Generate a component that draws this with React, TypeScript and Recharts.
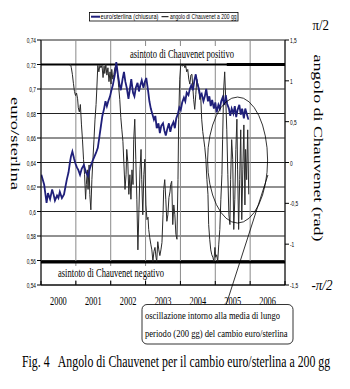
import React from "react";
import {
  ComposedChart,
  Line,
  XAxis,
  YAxis,
  CartesianGrid,
  ReferenceLine,
  ReferenceDot,
} from "recharts";

// year boundaries (labels sit in the middle of each year)
const YEARS = [2000, 2001, 2002, 2003, 2004, 2005, 2006, 2007];
const LEFT_TICKS = [0.54, 0.56, 0.58, 0.6, 0.62, 0.64, 0.66, 0.68, 0.7, 0.72, 0.74];
const RIGHT_TICKS = [-1.5, -1, -0.5, 0, 0.5, 1, 1.5];

// euro/sterlina (chiusura) - [year, value]
const EUR_GBP: [number, number][] = [
  [2000.01, 0.63], [2000.09, 0.622], [2000.16, 0.607], [2000.2, 0.615], [2000.26, 0.61],
  [2000.32, 0.618], [2000.36, 0.614], [2000.4, 0.609], [2000.46, 0.613], [2000.5, 0.611],
  [2000.54, 0.616], [2000.6, 0.611], [2000.66, 0.614], [2000.7, 0.62], [2000.74, 0.626],
  [2000.79, 0.632], [2000.83, 0.64], [2000.86, 0.645], [2000.9, 0.649], [2000.95, 0.643],
  [2000.99, 0.639], [2001.03, 0.636], [2001.07, 0.634], [2001.12, 0.63], [2001.17, 0.635],
  [2001.23, 0.638], [2001.29, 0.632], [2001.35, 0.629], [2001.4, 0.635], [2001.46, 0.64],
  [2001.52, 0.644], [2001.58, 0.648], [2001.63, 0.652], [2001.68, 0.662], [2001.72, 0.67],
  [2001.76, 0.678], [2001.81, 0.684], [2001.85, 0.69], [2001.89, 0.686], [2001.93, 0.69],
  [2001.98, 0.694], [2002.02, 0.699], [2002.06, 0.703], [2002.12, 0.712], [2002.16, 0.722],
  [2002.21, 0.711], [2002.25, 0.704], [2002.29, 0.699], [2002.34, 0.708], [2002.38, 0.714],
  [2002.42, 0.706], [2002.46, 0.701], [2002.51, 0.692], [2002.55, 0.7], [2002.59, 0.708],
  [2002.64, 0.697], [2002.68, 0.694], [2002.72, 0.701], [2002.77, 0.705], [2002.81, 0.698],
  [2002.85, 0.703], [2002.89, 0.707], [2002.94, 0.701], [2002.98, 0.706], [2003.02, 0.709],
  [2003.07, 0.699], [2003.11, 0.69], [2003.15, 0.684], [2003.19, 0.68], [2003.24, 0.675],
  [2003.28, 0.678], [2003.32, 0.668], [2003.37, 0.672], [2003.41, 0.664], [2003.45, 0.67],
  [2003.5, 0.672], [2003.54, 0.666], [2003.58, 0.662], [2003.62, 0.667], [2003.67, 0.672],
  [2003.71, 0.665], [2003.75, 0.67], [2003.8, 0.673], [2003.84, 0.668], [2003.88, 0.676],
  [2003.93, 0.68], [2003.97, 0.685], [2004.01, 0.683], [2004.05, 0.689], [2004.1, 0.693],
  [2004.14, 0.69], [2004.18, 0.697], [2004.23, 0.695], [2004.27, 0.7], [2004.31, 0.703],
  [2004.36, 0.699], [2004.4, 0.707], [2004.44, 0.712], [2004.48, 0.705], [2004.53, 0.7],
  [2004.57, 0.694], [2004.61, 0.696], [2004.66, 0.69], [2004.7, 0.694], [2004.74, 0.7],
  [2004.79, 0.69], [2004.83, 0.694], [2004.87, 0.686], [2004.91, 0.691], [2004.96, 0.684],
  [2005.0, 0.689], [2005.04, 0.681], [2005.09, 0.687], [2005.13, 0.684], [2005.17, 0.69],
  [2005.21, 0.693], [2005.26, 0.687], [2005.3, 0.695], [2005.34, 0.688], [2005.39, 0.684],
  [2005.43, 0.678], [2005.47, 0.684], [2005.52, 0.68], [2005.56, 0.686], [2005.6, 0.677],
  [2005.64, 0.683], [2005.69, 0.687], [2005.73, 0.679], [2005.77, 0.684], [2005.82, 0.676],
  [2005.86, 0.684], [2005.9, 0.68], [2005.95, 0.675],
];

// angolo di Chauvenet a 200 gg (rad) - [year, value]
const ANGLE: [number, number][] = [
  [2000.82, 1.19], [2000.85, 1.2], [2000.87, 1.16], [2000.9, 1.08], [2000.93, 0.97],
  [2000.96, 0.87], [2000.99, 0.82], [2001.02, 0.85], [2001.05, 0.78], [2001.07, 0.67],
  [2001.1, 0.62], [2001.13, 0.71], [2001.16, 0.47], [2001.19, 0.28], [2001.22, 0.04],
  [2001.25, -0.15], [2001.28, -0.45], [2001.3, -0.27], [2001.33, -0.09], [2001.35, -0.33],
  [2001.38, -0.03], [2001.4, -0.39], [2001.43, -0.58], [2001.46, -0.21], [2001.49, 0.04],
  [2001.52, 0.28], [2001.55, 0.53], [2001.58, 0.71], [2001.6, 0.89], [2001.63, 1.19],
  [2001.66, 1.11], [2001.69, 1.19], [2001.72, 1.16], [2001.75, 1.19], [2001.78, 1.04],
  [2001.81, 1.18], [2001.83, 1.09], [2001.86, 1.2], [2001.89, 1.07], [2001.92, 1.16],
  [2001.95, 0.99], [2001.98, 1.11], [2002.01, 0.96], [2002.03, 1.14], [2002.06, 1.02],
  [2002.09, 1.08], [2002.12, 1.16], [2002.15, 1.19], [2002.18, 1.14], [2002.21, 1.02],
  [2002.23, 0.92], [2002.26, 0.77], [2002.29, 0.55], [2002.32, 0.4], [2002.35, 0.26],
  [2002.38, -0.03], [2002.41, -0.33], [2002.44, -0.15], [2002.46, 0.16], [2002.49, 0.01],
  [2002.52, -0.39], [2002.55, -0.15], [2002.58, -0.45], [2002.61, -0.09], [2002.64, -0.27],
  [2002.66, 0.28], [2002.69, 0.53], [2002.72, 0.04], [2002.75, -0.45], [2002.78, -1.07],
  [2002.81, -0.58], [2002.84, -0.09], [2002.87, 0.16], [2002.89, -0.21], [2002.92, -0.64],
  [2002.95, -0.15], [2002.98, 0.04], [2003.01, -0.52], [2003.04, -0.7], [2003.07, -0.67],
  [2003.09, -0.82], [2003.12, -0.92], [2003.15, -1.0], [2003.18, -1.07], [2003.21, -1.21],
  [2003.24, -1.09], [2003.27, -1.04], [2003.3, -1.16], [2003.32, -1.21], [2003.35, -0.97],
  [2003.38, -1.07], [2003.41, -1.14], [2003.44, -1.07], [2003.47, -0.98], [2003.5, -0.64],
  [2003.52, -0.33], [2003.55, -0.21], [2003.58, -0.45], [2003.61, -0.72], [2003.64, -0.64],
  [2003.67, -0.43], [2003.7, -0.36], [2003.72, -0.27], [2003.75, -0.23], [2003.78, -0.76],
  [2003.81, -0.52], [2003.84, -0.64], [2003.87, -0.88], [2003.9, -0.94], [2003.93, -0.21],
  [2003.95, 0.53], [2003.98, 1.02], [2004.01, 1.2], [2004.04, 1.19], [2004.07, 1.18],
  [2004.1, 1.2], [2004.13, 1.16], [2004.15, 1.19], [2004.18, 1.11], [2004.21, 1.14],
  [2004.24, 1.02], [2004.27, 0.96], [2004.3, 1.07], [2004.33, 1.08], [2004.36, 0.89],
  [2004.38, 0.77], [2004.41, 0.65], [2004.44, 0.83], [2004.47, 1.02], [2004.5, 0.96],
  [2004.53, 0.87], [2004.56, 0.77], [2004.58, 0.83], [2004.61, 0.53], [2004.64, 0.38],
  [2004.67, 0.28], [2004.7, 0.18], [2004.73, 0.04], [2004.76, -0.21], [2004.79, -0.39],
  [2004.81, -0.76], [2004.84, -0.94], [2004.87, -1.07], [2004.9, -1.13], [2004.93, -1.16],
  [2004.96, -1.21], [2004.99, -1.04], [2005.01, -1.16], [2005.04, -1.13], [2005.07, -1.21],
  [2005.1, -1.0], [2005.13, -0.82], [2005.16, -0.45], [2005.19, -0.15], [2005.21, 0.28],
  [2005.24, 0.89], [2005.27, 1.11], [2005.3, 0.77], [2005.33, 0.4], [2005.36, -0.15],
  [2005.39, -0.64], [2005.42, -0.76], [2005.44, -0.21], [2005.47, 0.28], [2005.5, 0.04],
  [2005.53, -0.82], [2005.56, -0.45], [2005.59, 0.16], [2005.62, 0.53], [2005.64, -0.09],
  [2005.67, -0.82], [2005.7, -0.21], [2005.73, 0.4], [2005.76, -0.7], [2005.79, -0.09],
  [2005.82, 0.46], [2005.85, -0.52], [2005.87, 0.16], [2005.9, -0.21], [2005.93, 0.4],
  [2005.96, -0.39],
];

// asintoti di Chauvenet (right axis units)
const ASYM_POS = 1.2;
const ASYM_NEG = -1.22;
const ASYM_THICK_FROM = 2005.33;

// annotation: ellipse around the 2005 oscillation + pointer to the note
const ELLIPSE_AT = { x: 2005.64, y: 0.642 };
const POINTER = [
  { x: 2006.51, y: 0.6298 },
  { x: 2005.31, y: 0.5237 },
];

const eurData = EUR_GBP.map(([t, v]) => ({ t, v }));
const angData = ANGLE.map(([t, a]) => ({ t, a }));

const NAVY = "#1f1f7a";
const HALF_YEAR_PX = 17.43;
const SERIF = "'Liberation Serif', 'Times New Roman', serif";
const SANS = "'Liberation Sans', Arial, sans-serif";

const comma = (v: number) => String(v).replace(".", ",");

function LeftTick(props: any) {
  const { x, y, payload } = props;
  return (
    <g transform={`translate(${x},${y + 3})`}>
      <text transform="scale(0.6,1)" textAnchor="end" fontSize={8} fontFamily={SANS} fill="#000">
        {comma(payload.value)}
      </text>
    </g>
  );
}

function RightTick(props: any) {
  const { x, y, payload } = props;
  return (
    <g transform={`translate(${x},${y + 3})`}>
      <text transform="scale(0.6,1)" textAnchor="start" fontSize={8} fontFamily={SANS} fill="#000">
        {comma(payload.value)}
      </text>
    </g>
  );
}

function YearTick(props: any) {
  const { x, y, payload } = props;
  const yr = payload.value;
  return (
    <g>
      <line x1={x} x2={x} y1={y} y2={y - 4} stroke="#000" />
      {yr < 2007 && (
        <g transform={`translate(${x + HALF_YEAR_PX},${y + 19.5})`}>
          <text transform="scale(0.67,1)" textAnchor="middle" fontSize={12.5} fontFamily={SERIF} fill="#000">
            {yr}
          </text>
        </g>
      )}
    </g>
  );
}

// text squeezed horizontally, like the scanned original
function Squeezed({ x, y, sx, size, children, italic }: any) {
  return (
    <g transform={`translate(${x},${y}) scale(${sx},1)`}>
      <text fontSize={size} fontFamily={SERIF} fontStyle={italic ? "italic" : "normal"} style={{ whiteSpace: "pre" }}>
        {children}
      </text>
    </g>
  );
}

export default function App() {
  return (
    <div style={{ position: "absolute", left: 0, top: 0, width: 350, height: 389, background: "#fff" }}>
      <ComposedChart width={350} height={389} margin={{ top: 40, right: 0, bottom: 84, left: 0 }}>
        <CartesianGrid yAxisId="L" vertical={false} stroke="#222" />
        <CartesianGrid yAxisId="L" horizontal={false} stroke="#8a8a8a" />
        <XAxis
          dataKey="t"
          type="number"
          domain={[2000, 2007]}
          ticks={YEARS}
          interval={0}
          height={20}
          tickSize={0}
          tickMargin={0}
          tickLine={false}
          axisLine={{ stroke: "#000" }}
          tick={(p: any) => <YearTick {...p} />}
          allowDataOverflow
        />
        <YAxis
          yAxisId="L"
          orientation="left"
          width={41}
          domain={[0.54, 0.74]}
          ticks={LEFT_TICKS}
          interval={0}
          tickSize={4}
          tickMargin={1}
          tickLine={{ stroke: "#000" }}
          axisLine={{ stroke: "#000" }}
          tick={(p: any) => <LeftTick {...p} />}
          allowDataOverflow
        />
        <YAxis
          yAxisId="R"
          orientation="right"
          width={65}
          domain={[-1.5, 1.5]}
          ticks={RIGHT_TICKS}
          interval={0}
          tickSize={4}
          tickMargin={1}
          tickLine={{ stroke: "#000" }}
          axisLine={{ stroke: "#000" }}
          tick={(p: any) => <RightTick {...p} />}
          allowDataOverflow
        />
        <ReferenceLine yAxisId="R" y={ASYM_POS} stroke="#000" strokeWidth={2} />
        <ReferenceLine
          yAxisId="R"
          segment={[
            { x: ASYM_THICK_FROM, y: ASYM_POS },
            { x: 2007, y: ASYM_POS },
          ]}
          stroke="#000"
          strokeWidth={3.2}
        />
        <ReferenceLine yAxisId="R" y={ASYM_NEG} stroke="#000" strokeWidth={2.5} />
        <Line
          yAxisId="R"
          data={angData}
          dataKey="a"
          type="linear"
          stroke="#2a2a2a"
          strokeWidth={1}
          dot={false}
          isAnimationActive={false}
        />
        <Line
          yAxisId="L"
          data={eurData}
          dataKey="v"
          type="linear"
          stroke={NAVY}
          strokeWidth={1.8}
          dot={false}
          isAnimationActive={false}
        />
        <ReferenceDot
          yAxisId="L"
          x={ELLIPSE_AT.x}
          y={ELLIPSE_AT.y}
          r={1}
          shape={(p: any) => (
            <ellipse cx={p.cx} cy={p.cy} rx={30} ry={63} fill="none" stroke="#000" strokeWidth={0.8} />
          )}
        />
        <ReferenceLine yAxisId="L" segment={POINTER} ifOverflow="visible" stroke="#000" strokeWidth={0.8} />
      </ComposedChart>

      <svg
        width={350}
        height={389}
        style={{ position: "absolute", left: 0, top: 0, pointerEvents: "none" }}
      >
        {/* legend */}
        <rect x={89.5} y={12.5} width={148.5} height={8.5} fill="#fff" stroke="#000" strokeWidth={0.8} />
        <line x1={91} x2={100} y1={16.7} y2={16.7} stroke={NAVY} strokeWidth={2} />
        <text x={100.5} y={19.4} fontSize={7.5} fontFamily={SANS} textLength={58} lengthAdjust="spacingAndGlyphs">
          euro/sterlina (chiusura)
        </text>
        <line x1={161.5} x2={168.5} y1={16.7} y2={16.7} stroke="#000" strokeWidth={1} />
        <text x={170} y={19.4} fontSize={7.5} fontFamily={SANS} textLength={66.5} lengthAdjust="spacingAndGlyphs">
          angolo di Chauvenet a 200 gg
        </text>

        {/* asymptote labels */}
        <rect x={128.5} y={46} width={107} height={13} fill="#fff" />
        <text x={130} y={57.5} fontSize={12.5} fontFamily={SERIF} textLength={104} lengthAdjust="spacingAndGlyphs">
          asintoto di Chauvenet positivo
        </text>
        <rect x={56.5} y={266} width={109} height={14} fill="#fff" />
        <text x={58} y={276.5} fontSize={12.5} fontFamily={SERIF} textLength={106} lengthAdjust="spacingAndGlyphs">
          asintoto di Chauvenet negativo
        </text>

        {/* pi/2 marks */}
        <text x={312.5} y={30} fontSize={14} fontFamily={SERIF} textLength={16.5} lengthAdjust="spacingAndGlyphs">
          π/2
        </text>
        <text x={311.5} y={290} fontSize={14} fontFamily={SERIF} fontStyle="italic" textLength={21} lengthAdjust="spacingAndGlyphs">
          -π/2
        </text>

        {/* axis titles */}
        <g transform="translate(11,143.5) scale(0.75,1) rotate(90)">
          <text textAnchor="middle" fontSize={18} fontFamily={SERIF} textLength={93} lengthAdjust="spacingAndGlyphs">
            euro/sterlina
          </text>
        </g>
        <g transform="translate(313.5,148) scale(0.75,1) rotate(90)">
          <text textAnchor="middle" fontSize={18} fontFamily={SERIF} textLength={187} lengthAdjust="spacingAndGlyphs">
            angolo di Chauvenet (rad)
          </text>
        </g>

        {/* note box */}
        <rect x={142} y={304.5} width={151} height={39.5} rx={5} fill="#fff" stroke="#000" strokeWidth={0.8} />
        <Squeezed x={145} y={319} sx={0.775} size={11}>
          oscillazione intorno alla media di lungo
        </Squeezed>
        <Squeezed x={145} y={337} sx={0.78} size={11}>
          periodo (200 gg) del cambio euro/sterlina
        </Squeezed>

        {/* caption */}
        <Squeezed x={22} y={367} sx={0.74} size={16}>
          {"Fig. 4   Angolo di Chauvenet per il cambio euro/sterlina a 200 gg"}
        </Squeezed>
      </svg>
    </div>
  );
}
